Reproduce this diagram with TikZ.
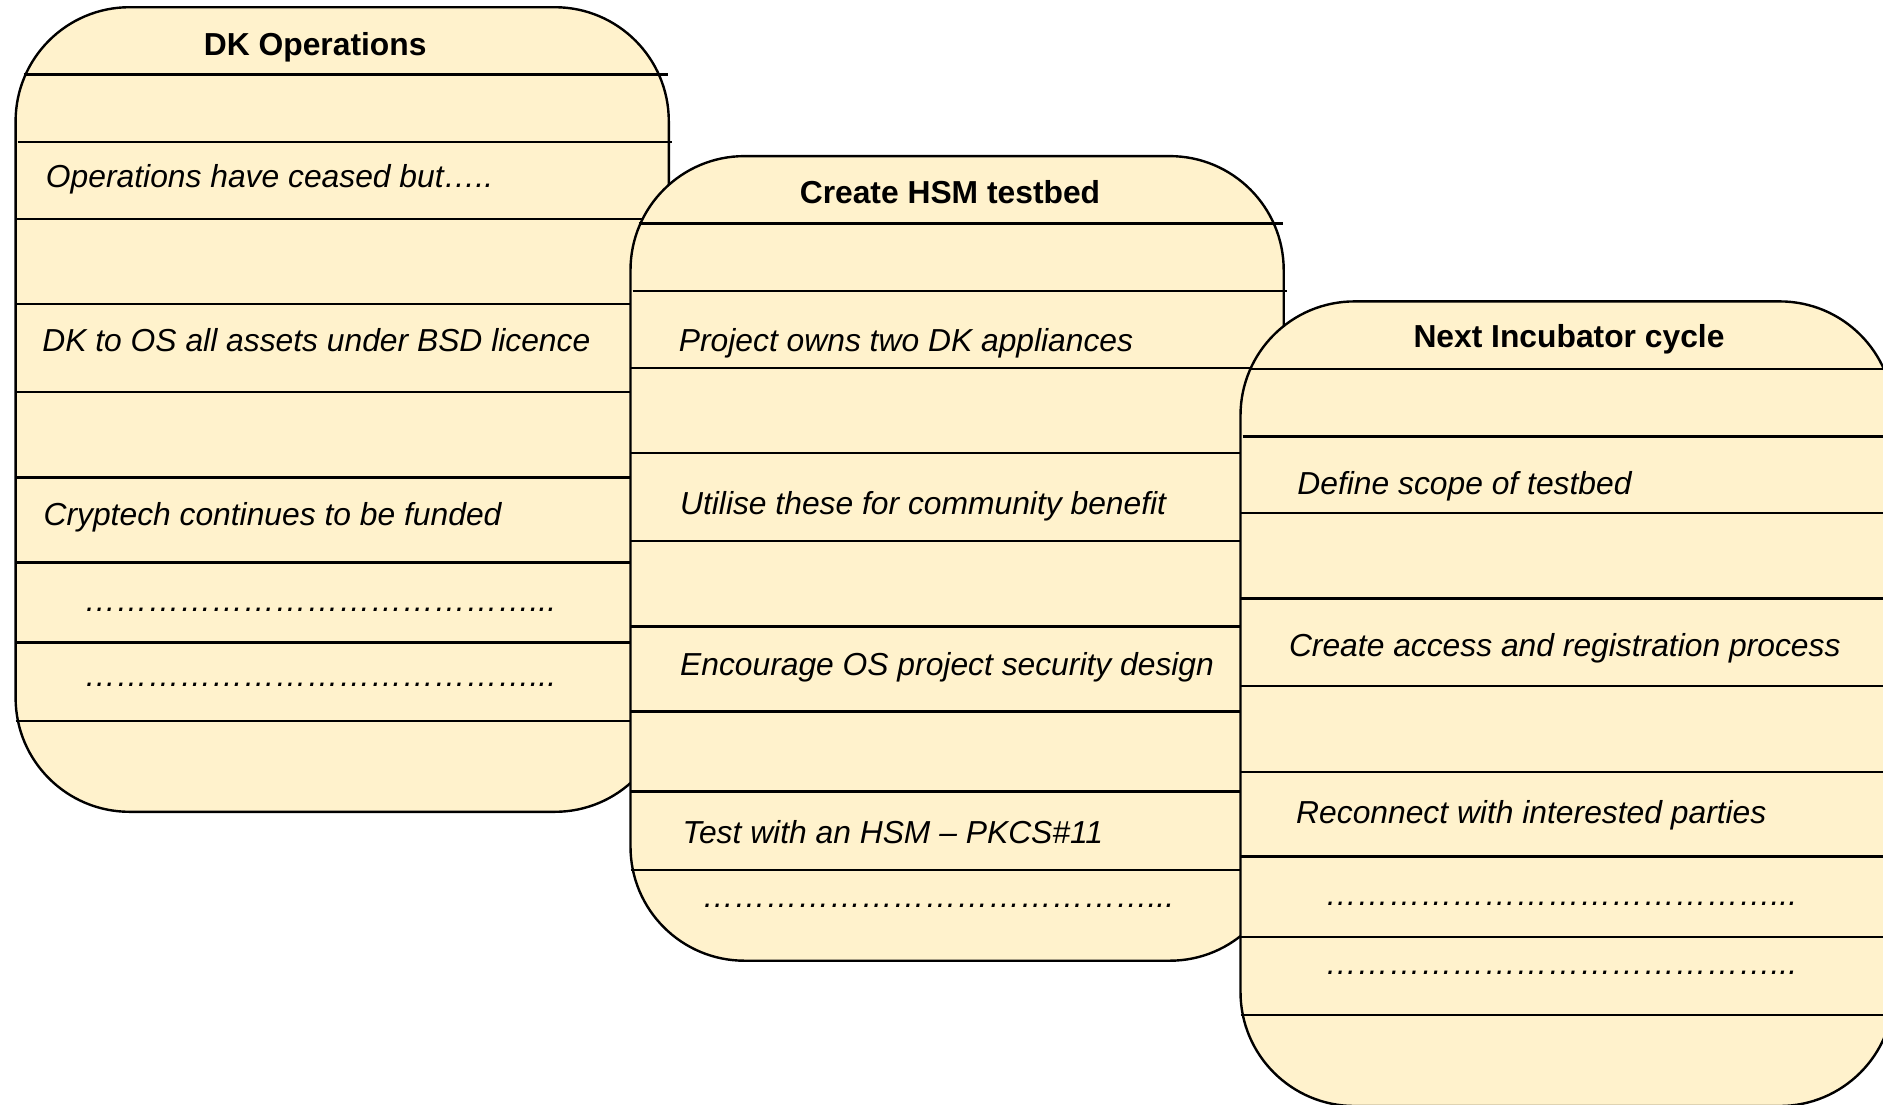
\documentclass[tikz,border=0pt]{standalone}
\usepackage{fontspec}
\setmainfont{Liberation Sans}
\usetikzlibrary{calc}
\definecolor{cardfill}{RGB}{255,242,204}
\newcommand\myel{\char"2026\relax}
\newcommand\myfive{\myel\myel\myel\myel\myel}
\newcommand\mydotrow{\myfive\myfive\myel\myel\myel\myel...}
\begin{document}
\begin{tikzpicture}[x=0.5pt,y=-0.5pt,
  card/.style={draw=black, line width=1.2pt, fill=cardfill, rectangle, rounded corners=57pt,
    minimum width=326.6pt, minimum height=402.3pt, inner sep=0pt, outer sep=0pt, anchor=north west},
  sep/.style={draw=black, line width=1.2pt},
  ttl/.style={font=\bfseries\fontsize{15.9}{18}\selectfont, inner sep=0pt, anchor=base},
  itm/.style={font=\itshape\fontsize{15.9}{18}\selectfont, inner sep=0pt, anchor=base west}]
\useasboundingbox (0,0) rectangle (1883,1104);
\clip (0,0) rectangle (1883,1104);

% ---------- Card 1 ----------
\node[card] (c1) at (15.6,7.2) {};
\foreach \d in {211.7,297,384.7,470.4,555.2,635.3,713.7}
  \draw[sep] ($(c1.north west)+(0,\d)$) -- ($(c1.north east)+(0,\d)$);
\draw[sep] ($(c1.north west)+(8,67.3)$) -- ($(c1.north west)+(652,67.3)$);
\draw[sep] ($(c1.north west)+(2,134.9)$) -- ($(c1.north west)+(656,134.9)$);
\node[ttl] (h1) at (315.2,55.8) {DK Operations};
\node[itm] (a1) at (45.6,187.9) {Operations have ceased but\myel..};
\node[itm] (a2) at (42.0,351.3) {DK to OS all assets under BSD licence};
\node[itm] (a3) at (43.2,525.4) {Cryptech continues to be funded};
\node[itm] (a4) at (84,611) {\mydotrow};
\node[itm] (a5) at (84,686.5) {\mydotrow};

% ---------- Card 2 ----------
\node[card] (c2) at (630.5,156.1) {};
\foreach \d in {211.7,297,384.7,470.4,555.2,635.3,713.7}
  \draw[sep] ($(c2.north west)+(0,\d)$) -- ($(c2.north east)+(0,\d)$);
\draw[sep] ($(c2.north west)+(8,67.3)$) -- ($(c2.north west)+(652,67.3)$);
\draw[sep] ($(c2.north west)+(2,134.9)$) -- ($(c2.north west)+(656,134.9)$);
\node[ttl] (h2) at (950,203.5) {Create HSM testbed};
\node[itm] (b1) at (678.5,351.3) {Project owns two DK appliances};
\node[itm] (b2) at (679.7,514.6) {Utilise these for community benefit};
\node[itm] (b3) at (679.7,675.5) {Encourage OS project security design};
\node[itm] (b4) at (682.1,843.6) {Test with an HSM – PKCS\#11};
\node[itm] (b5) at (702,907.5) {\mydotrow};

% ---------- Card 3 ----------
\node[card] (c3) at (1240.5,301.4) {};
\foreach \d in {211.7,297,384.7,470.4,555.2,635.3,713.7}
  \draw[sep] ($(c3.north west)+(0,\d)$) -- ($(c3.north east)+(0,\d)$);
\draw[sep] ($(c3.north west)+(8,67.3)$) -- ($(c3.north west)+(652,67.3)$);
\draw[sep] ($(c3.north west)+(2,134.9)$) -- ($(c3.north west)+(656,134.9)$);
\node[ttl] (h3) at (1569,347.7) {Next Incubator cycle};
\node[itm] (d1) at (1297,494.2) {Define scope of testbed};
\node[itm] (d2) at (1288.6,656.3) {Create access and registration process};
\node[itm] (d3) at (1295.8,823.2) {Reconnect with interested parties};
\node[itm] (d4) at (1325,905.1) {\mydotrow};
\node[itm] (d5) at (1325,974.7) {\mydotrow};
\end{tikzpicture}
\end{document}
